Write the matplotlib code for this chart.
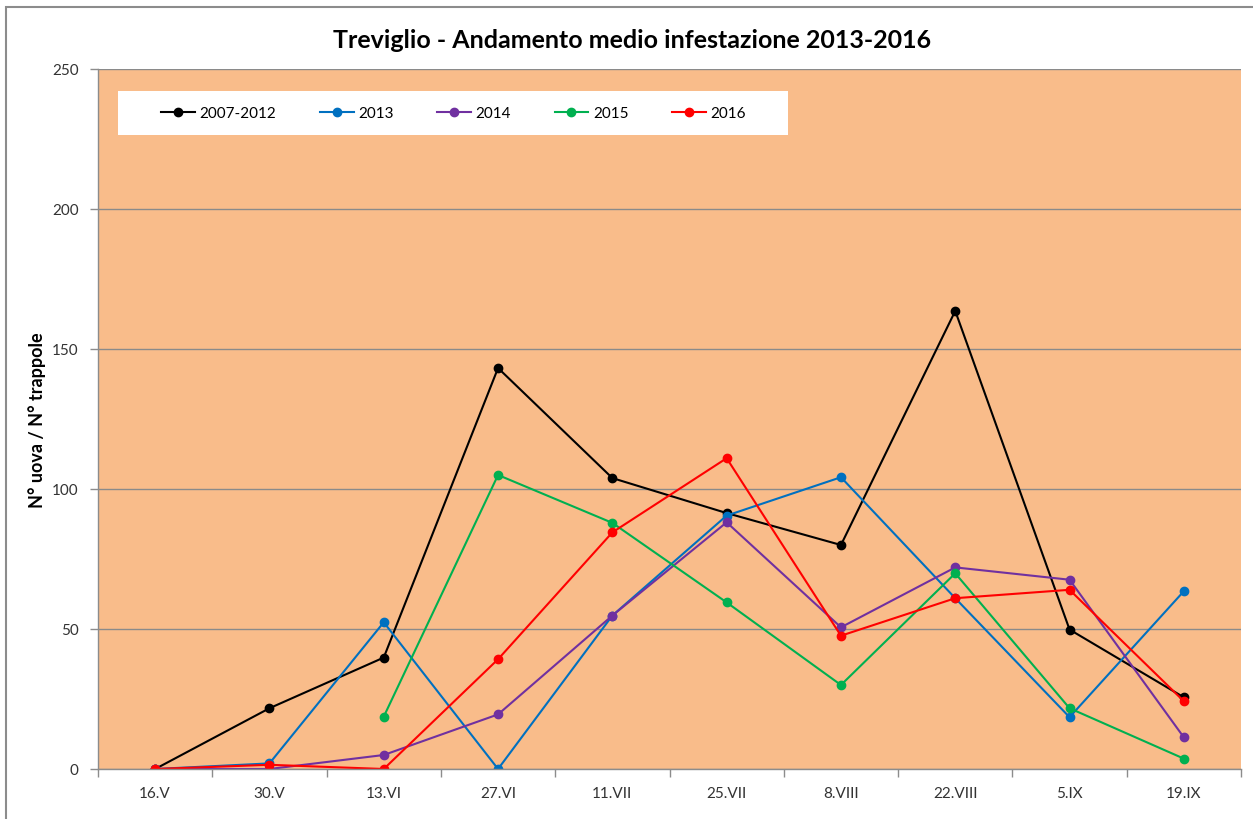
import numpy as np
import matplotlib.pyplot as plt
from matplotlib.patches import Rectangle

plt.rcParams['font.family'] = ['Lato', 'DejaVu Sans']

dates = ['16.V', '30.V', '13.VI', '27.VI', '11.VII', '25.VII', '8.VIII', '22.VIII', '5.IX', '19.IX']

avg_2007_2012 = [0, 21.7, 39.8, 143.2, 103.9, 91.4, 80.0, 163.6, 49.8, 25.6]
y2013 = [0, 2.0, 52.4, 0, 54.8, 90.5, 104.2, 61.0, 18.5, 63.5]
y2014 = [0, 0, 5.0, 19.5, 54.8, 88.1, 50.6, 72.0, 67.6, 11.3]
y2015 = [np.nan, np.nan, 18.7, 105.0, 87.9, 59.5, 30.0, 69.9, 21.7, 3.7]
y2016 = [0, 1.5, 0, 39.2, 84.5, 111.0, 47.6, 61.0, 64.0, 24.2]

series = [
    ('2007-2012', avg_2007_2012, '#000000'),
    ('2013', y2013, '#0070C0'),
    ('2014', y2014, '#7030A0'),
    ('2015', y2015, '#00B050'),
    ('2016', y2016, '#FF0000'),
]

fig = plt.figure(figsize=(12.53, 8.2), dpi=100)
fig.patch.set_facecolor('white')
# chart border (cut at right/bottom edge)
fig.add_artist(Rectangle((6 / 1253, -0.05), 1.1, (820 - 8) / 820 + 0.05,
                         transform=fig.transFigure, fill=False,
                         edgecolor='#8c8c8c', linewidth=1.5))

ax = fig.add_axes([98 / 1253, 50 / 820, 1143 / 1253, 700 / 820])
ax.set_facecolor('#F9BC8A')

x = np.arange(len(dates))
for label, vals, color in series:
    ax.plot(x, vals, color=color, lw=1.5, marker='o', markersize=6, label=label)

ax.set_xlim(-0.5, len(dates) - 0.5)
ax.set_ylim(0, 250)
ax.set_yticks(np.arange(0, 251, 50))
ax.set_xticks(x)
ax.set_xticklabels(dates)
ax.set_xticks(np.arange(-0.5, len(dates), 1), minor=True)
ax.tick_params(axis='x', which='major', length=0, pad=12, labelsize=11, labelcolor='#333333')
ax.tick_params(axis='x', which='minor', length=6, color='#8c8c8c', width=1)
ax.tick_params(axis='y', length=6, color='#8c8c8c', width=1, pad=8,
               labelsize=11, labelcolor='#333333')

ax.grid(axis='y', color='#8a8a8a', lw=1)
ax.set_axisbelow(True)
for s in ['top', 'right']:
    ax.spines[s].set_visible(False)
for s in ['left', 'bottom']:
    ax.spines[s].set_color('#8c8c8c')
    ax.spines[s].set_linewidth(1)

ax.set_ylabel('N° uova / N° trappole', fontsize=13, fontweight='bold', labelpad=4)
fig.text(632 / 1253, 1 - 40 / 820, 'Treviglio - Andamento medio infestazione 2013-2016',
         ha='center', va='center', fontsize=18, fontweight='bold')

# white legend box
lx0, lw_, ly0, lh = 20 / 1143, 670 / 1143, 634 / 700, 44 / 700
ax.add_patch(Rectangle((lx0, ly0), lw_, lh, transform=ax.transAxes,
                       facecolor='white', edgecolor='none', zorder=5))
leg = ax.legend(loc='center', bbox_to_anchor=(lx0 + 0.038, ly0, lw_ - 0.075, lh),
                mode='expand', ncol=5, fontsize=11, frameon=False,
                handlelength=2.2, handletextpad=0.3, borderaxespad=0, borderpad=0)
leg.set_zorder(6)

fig.savefig('out.png', dpi=100)
